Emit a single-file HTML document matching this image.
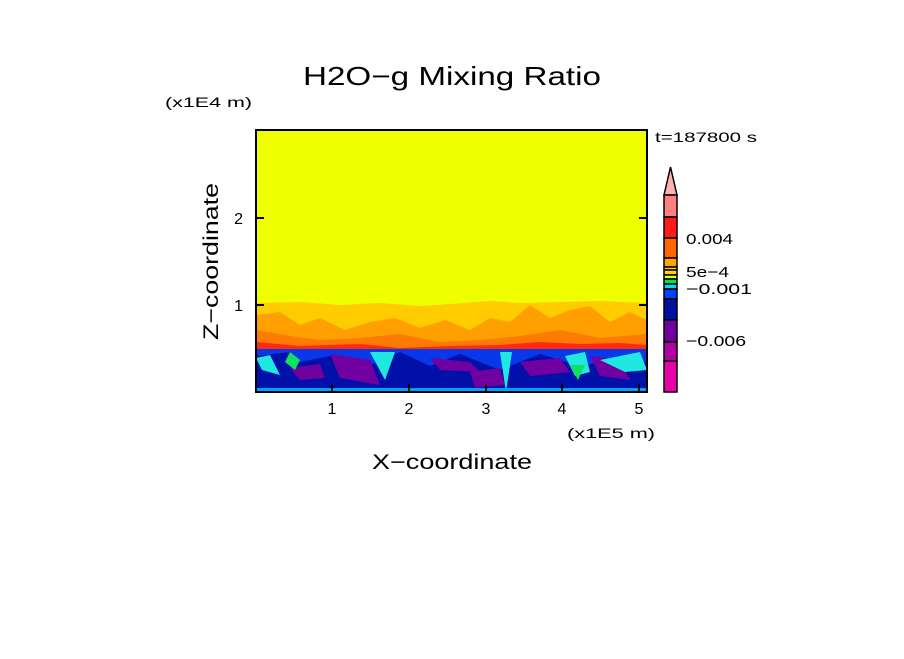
<!DOCTYPE html>
<html><head><style>
body{margin:0;background:#fff;}
svg text{font-family:"Liberation Sans",sans-serif;fill:#000;}
</style></head><body>
<svg width="904" height="654" viewBox="0 0 904 654" xmlns="http://www.w3.org/2000/svg">
<rect width="904" height="654" fill="#fff"/>
<text x="303" y="85" font-size="26" textLength="298" lengthAdjust="spacingAndGlyphs">H2O−g Mixing Ratio</text>
<text x="165" y="107" font-size="14" textLength="87" lengthAdjust="spacingAndGlyphs">(x1E4 m)</text>
<text x="655" y="142" font-size="14" textLength="102" lengthAdjust="spacingAndGlyphs">t=187800 s</text>
<defs><clipPath id="c"><rect x="256" y="130" width="391" height="262"/></clipPath></defs>
<g clip-path="url(#c)">
<rect x="256" y="130" width="391" height="262" fill="#f0ff00"/>
<path d="M256 303 L300 302 L340 305 L380 303 L420 306 L450 304 L490 301 L520 303 L560 302 L600 301 L647 303 L647 350 L256 350Z" fill="#ffcc00"/>
<path d="M256 315 L280 312 L300 325 L320 318 L345 330 L370 322 L395 318 L420 328 L445 320 L470 330 L490 318 L510 322 L530 305 L550 318 L570 310 L590 306 L610 322 L630 312 L647 320 L647 350 L256 350Z" fill="#ffa000"/>
<path d="M256 330 L290 336 L320 340 L360 338 L400 334 L440 342 L480 340 L520 336 L560 330 L600 338 L647 334 L647 350 L256 350Z" fill="#ff7a00"/>
<path d="M256 342 L300 346 L360 344 L400 348 L450 346 L500 345 L540 342 L580 344 L620 343 L647 345 L647 352 L256 352Z" fill="#ff2a10"/>
<rect x="256" y="349" width="391" height="43" fill="#0838e8"/>
<path d="M256 356 L290 352 L300 362 L330 356 L350 370 L380 362 L400 352 L430 366 L460 354 L500 370 L540 354 L580 366 L620 358 L647 362 L647 392 L256 392Z" fill="#0010a8"/>
<path d="M330 354 L370 360 L380 385 L340 378Z M430 358 L470 362 L480 372 L440 370Z M520 362 L560 358 L570 372 L530 376Z M590 356 L620 360 L630 380 L600 376Z M470 372 L500 368 L505 385 L475 388Z M290 368 L320 364 L325 378 L300 380Z" fill="#7000a0"/>
<path d="M256 358 L270 355 L280 375 L262 370Z M370 352 L395 352 L385 380Z M500 352 L512 352 L506 392Z M565 356 L585 352 L590 372 L575 376Z M600 360 L640 352 L647 370 L625 372Z" fill="#20e8e0"/>
<path d="M290 352 L300 360 L295 370 L285 362Z M570 365 L585 365 L578 380Z" fill="#10e060"/>
<rect x="256" y="388" width="391" height="4" fill="#00a0ff"/>
</g>
<rect x="256" y="130" width="391" height="262" fill="none" stroke="#000" stroke-width="2"/>
<g stroke="#000" stroke-width="2">
<line x1="332" y1="392" x2="332" y2="384"/><line x1="409" y1="392" x2="409" y2="384"/><line x1="486" y1="392" x2="486" y2="384"/><line x1="562" y1="392" x2="562" y2="384"/><line x1="639" y1="392" x2="639" y2="384"/>
<line x1="256" y1="305" x2="264" y2="305"/><line x1="256" y1="218" x2="264" y2="218"/>
<line x1="647" y1="305" x2="639" y2="305"/><line x1="647" y1="218" x2="639" y2="218"/>
</g>
<g font-size="16">
<text x="332" y="414" text-anchor="middle">1</text><text x="409" y="414" text-anchor="middle">2</text><text x="486" y="414" text-anchor="middle">3</text><text x="562" y="414" text-anchor="middle">4</text><text x="639" y="414" text-anchor="middle">5</text>
<text x="243" y="311" text-anchor="end">1</text><text x="243" y="224" text-anchor="end">2</text>
</g>
<text x="567" y="438" font-size="14" textLength="88" lengthAdjust="spacingAndGlyphs">(x1E5 m)</text>
<text x="372" y="469" font-size="21" textLength="160" lengthAdjust="spacingAndGlyphs">X−coordinate</text>
<text transform="translate(218,340) rotate(-90)" font-size="21" textLength="157" lengthAdjust="spacingAndGlyphs">Z−coordinate</text>
<g stroke="#000" stroke-width="1.5">
<path d="M664 195 L670.5 167 L677 195Z" fill="#ffb0b0"/>
<rect x="664" y="195" width="13" height="22" fill="#ff8080"/>
<rect x="664" y="217" width="13" height="21" fill="#ff1a1a"/>
<rect x="664" y="238" width="13" height="20" fill="#ff6600"/>
<rect x="664" y="258" width="13" height="9" fill="#ffa500"/>
<rect x="664" y="267" width="13" height="3" fill="#ffcc00"/>
<rect x="664" y="270" width="13" height="5" fill="#ffd700"/>
<rect x="664" y="275" width="13" height="4" fill="#f0ff00"/>
<rect x="664" y="279" width="13" height="5" fill="#00e060"/>
<rect x="664" y="284" width="13" height="5" fill="#00ddee"/>
<rect x="664" y="289" width="13" height="10" fill="#0040ff"/>
<rect x="664" y="299" width="13" height="21" fill="#0010a0"/>
<rect x="664" y="320" width="13" height="22" fill="#7000a0"/>
<rect x="664" y="342" width="13" height="19" fill="#b000a0"/>
<rect x="664" y="361" width="13" height="31" fill="#e800a8"/>
</g>
<g font-size="15">
<text x="686" y="244" textLength="47" lengthAdjust="spacingAndGlyphs">0.004</text>
<text x="686" y="277" textLength="43" lengthAdjust="spacingAndGlyphs">5e−4</text>
<text x="686" y="294" textLength="66" lengthAdjust="spacingAndGlyphs">−0.001</text>
<text x="686" y="346" textLength="60" lengthAdjust="spacingAndGlyphs">−0.006</text>
</g>
</svg>
</body></html>
